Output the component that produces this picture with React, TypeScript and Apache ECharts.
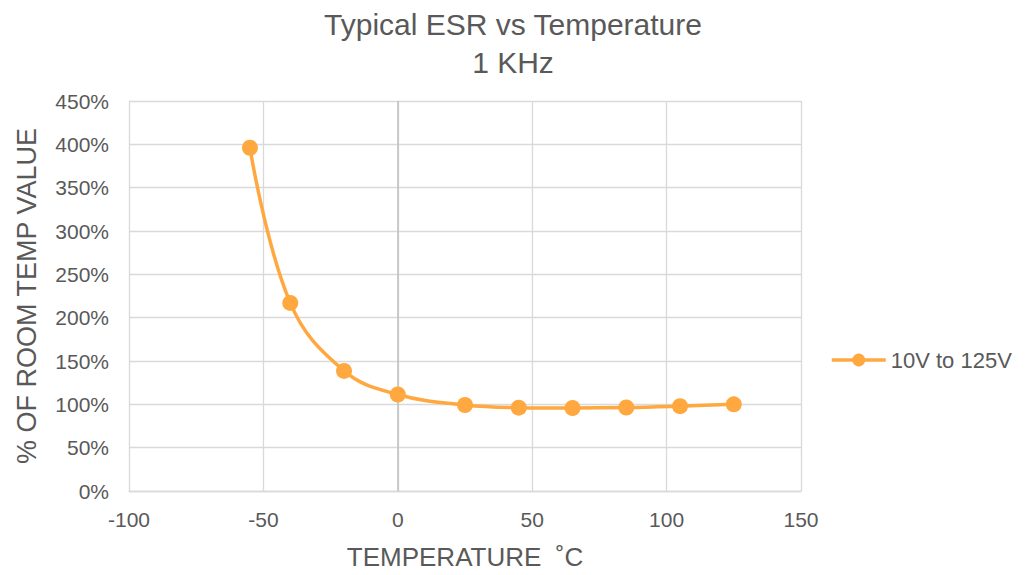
import React, { useEffect, useRef } from "react";
import * as echarts from "echarts";

const temperatures = [-55, -40, -20, 0, 25, 45, 65, 85, 105, 125];
const esrPercent = [396, 217, 138.6, 111.4, 99.2, 96.2, 95.8, 96.3, 97.9, 100];
const seriesName = "10V to 125V";
const titleLines = ["Typical ESR vs Temperature", "1 KHz"];
const xAxisName = "TEMPERATURE  ˚C";
const yAxisName = "% OF ROOM TEMP VALUE";

export default function App() {
  const ref = useRef<HTMLDivElement>(null);
  useEffect(() => {
    if (!ref.current) return;
    const chart = echarts.init(ref.current, undefined, { renderer: "svg" });
    const textColor = "#595959";
    const font = "'Liberation Sans', Arial, sans-serif";
    const orange = "#FFA83F";
    chart.setOption({
      animation: false,
      backgroundColor: "#ffffff",
      textStyle: { fontFamily: font, color: textColor },
      title: {
        text: titleLines.join("\n"),
        left: "center",
        top: 5,
        padding: 0,
        textStyle: {
          fontFamily: font,
          color: textColor,
          fontSize: 30,
          fontWeight: "normal",
          lineHeight: 38,
        },
      },
      legend: {
        orient: "vertical",
        left: 825,
        top: 344,
        itemWidth: 54,
        itemHeight: 16,
        itemGap: 10,
        lineStyle: { width: 3.5 },
        textStyle: { fontFamily: font, color: textColor, fontSize: 22 },
        data: [seriesName],
      },
      grid: { left: 129, right: 225, top: 101, bottom: 79, containLabel: false },
      xAxis: {
        type: "value",
        min: -100,
        max: 150,
        interval: 50,
        name: xAxisName,
        nameLocation: "middle",
        nameGap: 53,
        nameTextStyle: { fontFamily: font, color: textColor, fontSize: 26 },
        axisLine: { onZero: false, lineStyle: { color: "#d9d9d9", width: 1.3 } },
        axisTick: { show: false },
        axisLabel: { color: textColor, fontSize: 21, margin: 18, fontFamily: font },
        splitLine: { show: true, lineStyle: { color: "#d9d9d9", width: 1.3 } },
      },
      yAxis: {
        type: "value",
        min: 0,
        max: 450,
        interval: 50,
        name: yAxisName,
        nameLocation: "middle",
        nameGap: 89,
        nameRotate: 90,
        nameTextStyle: { fontFamily: font, color: textColor, fontSize: 27 },
        axisLine: { show: false },
        axisTick: { show: false },
        axisLabel: {
          color: textColor,
          fontSize: 21,
          margin: 20,
          fontFamily: font,
          formatter: "{value}%",
        },
        splitLine: { show: true, lineStyle: { color: "#d9d9d9", width: 1.3 } },
      },
      series: [
        {
          name: seriesName,
          type: "line",
          data: temperatures.map((t, i) => [t, esrPercent[i]]),
          smooth: 0.4,
          symbol: "circle",
          symbolSize: 16,
          lineStyle: { color: orange, width: 3.5 },
          itemStyle: { color: orange },
          markLine: {
            silent: true,
            symbol: "none",
            label: { show: false },
            lineStyle: { color: "#bfbfbf", width: 1.5, type: "solid" },
            data: [{ xAxis: 0 }],
            z: 1,
          },
          z: 5,
        },
      ],
    });
    return () => chart.dispose();
  }, []);
  return (
    <div
      ref={ref}
      style={{ position: "fixed", left: 0, top: 0, width: 1026, height: 575 }}
    />
  );
}
